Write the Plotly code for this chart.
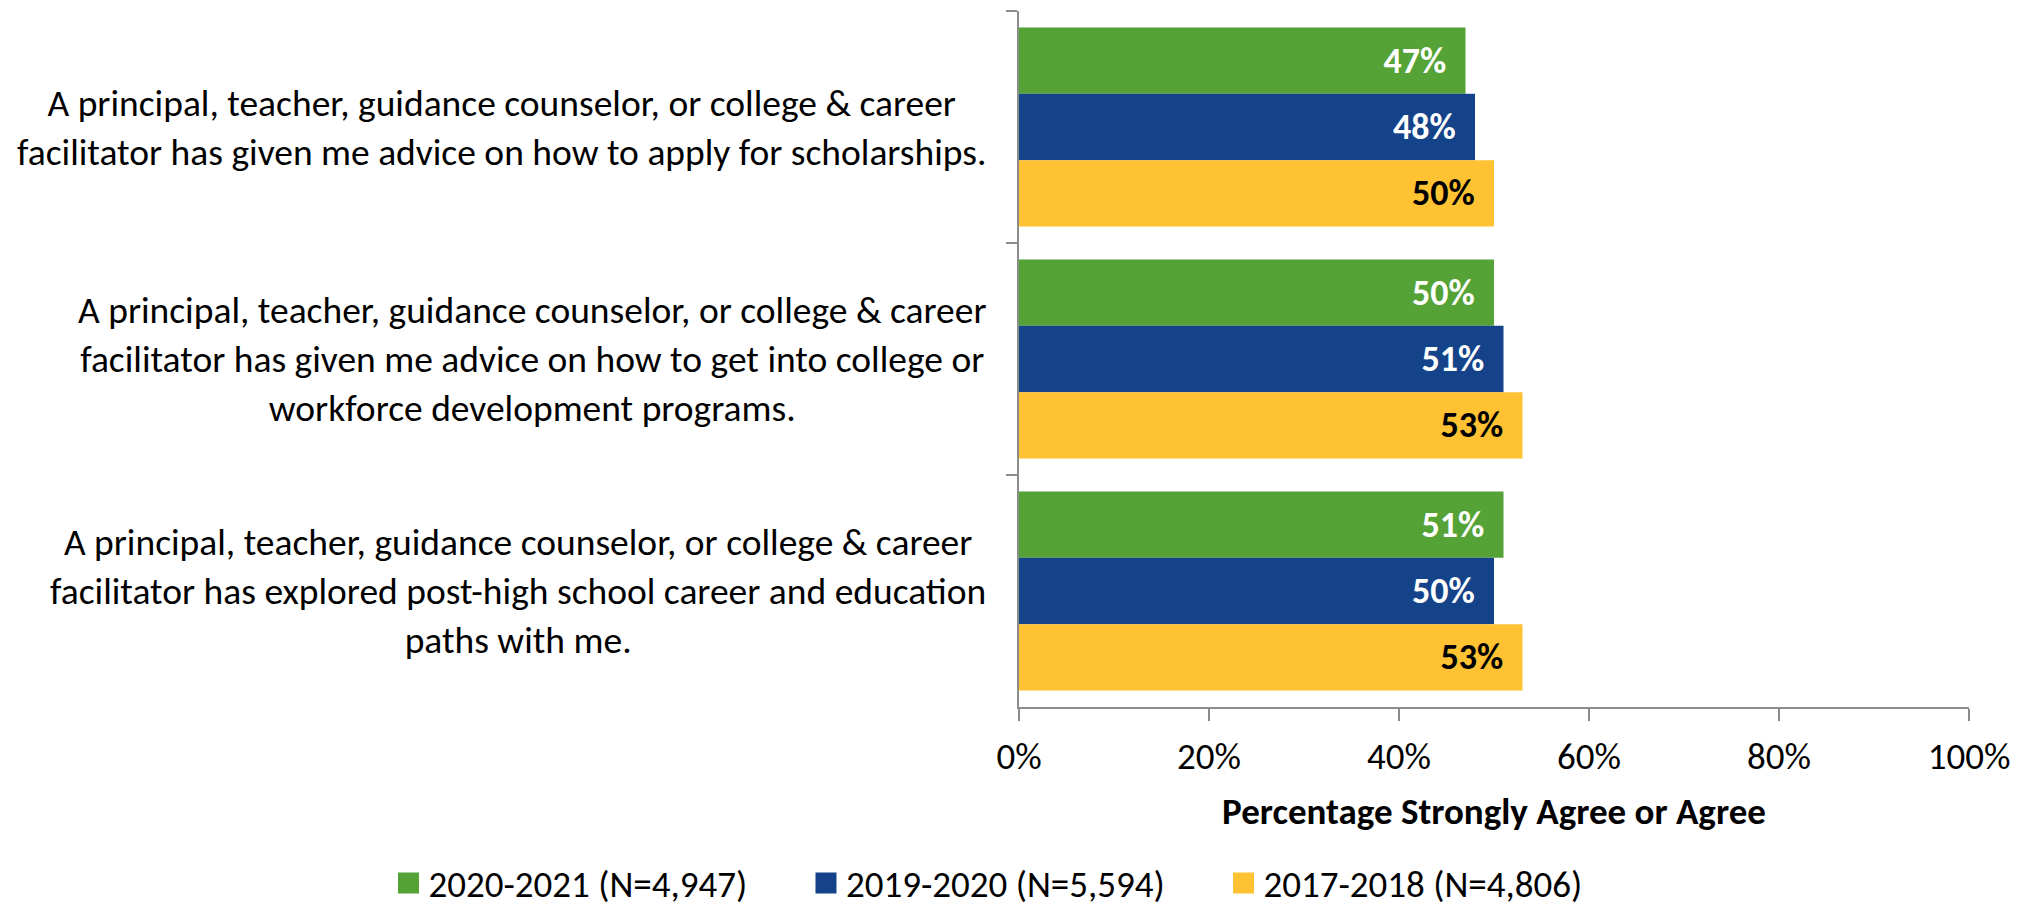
import plotly.graph_objects as go

categories = [
    "A principal, teacher, guidance counselor, or college & career<br>facilitator has given me advice on how to apply for scholarships.",
    "A principal, teacher, guidance counselor, or college & career<br>facilitator has given me advice on how to get into college or<br>workforce development programs.",
    "A principal, teacher, guidance counselor, or college & career<br>facilitator has explored post-high school career and education<br>paths with me.",
]
series_names = ["2020-2021 (N=4,947)", "2019-2020 (N=5,594)", "2017-2018 (N=4,806)"]
values_2020_2021 = [0.47, 0.50, 0.51]
values_2019_2020 = [0.48, 0.51, 0.50]
values_2017_2018 = [0.50, 0.53, 0.53]
colors = ["#55A237", "#144389", "#FFC232"]
text_colors = ["white", "white", "black"]
x_ticks = [0, 0.2, 0.4, 0.6, 0.8, 1.0]

FONT = "Carlito, Calibri, Lato, 'Open Sans', sans-serif"
# page body has an 8px margin, so the figure is sized to fit the window
W, H = 2020, 903
L, R, T, B = 1011, 59, 3, 204
AXC = "#8C8C8C"

fig = go.Figure()
for name, vals, col, tcol in zip(series_names, [values_2020_2021, values_2019_2020, values_2017_2018], colors, text_colors):
    fig.add_trace(go.Bar(
        y=categories, x=vals, name=name, orientation="h",
        marker=dict(color=col, line=dict(width=0)),
        texttemplate="<b>%{x:.0%}</b>\u00a0\u00a0",
        textposition="inside", insidetextanchor="end",
        textfont=dict(family=FONT, size=36, color=tcol),
        constraintext="none", cliponaxis=False,
        showlegend=False,
    ))

# legend-only entries with larger square swatches
for name, col in zip(series_names, colors):
    fig.add_trace(go.Scatter(
        x=[None], y=[None], mode="markers", name=name,
        marker=dict(symbol="square", size=16, color=col, line=dict(color=col, width=5)),
        showlegend=True, hoverinfo="skip",
    ))

for cat in categories:
    fig.add_annotation(
        x=-0.033, xref="paper", y=cat, yref="y", text=cat,
        showarrow=False, xanchor="right", yanchor="middle", align="center",
        font=dict(family=FONT, size=37.5, color="black"),
    )

fig.update_layout(
    width=W, height=H,
    margin=dict(l=L, r=R, t=T, b=B, autoexpand=False),
    plot_bgcolor="white", paper_bgcolor="white",
    barmode="group", bargap=0.142, bargroupgap=0,
    font=dict(family=FONT, size=37, color="black"),
    showlegend=True,
    legend=dict(
        orientation="h", xref="paper", yref="paper",
        x=-0.6637, xanchor="left", y=-0.2535, yanchor="middle",
        font=dict(family=FONT, size=37, color="black"),
        entrywidth=372.5, entrywidthmode="pixels",
        traceorder="normal", itemsizing="trace",
    ),
)
fig.update_xaxes(
    range=[0, 1], tickvals=x_ticks, tickformat=".0%",
    showgrid=False, zeroline=False,
    showline=True, linecolor=AXC, linewidth=2,
    ticks="outside", ticklen=12, tickcolor=AXC, tickwidth=2,
    ticklabelstandoff=4,
    tickfont=dict(family=FONT, size=37, color="black"),
    title=dict(text="<b>Percentage Strongly Agree or Agree</b>", font=dict(family=FONT, size=37, color="black"), standoff=20),
)
fig.update_yaxes(
    autorange="reversed", showgrid=False, zeroline=False,
    showline=True, linecolor=AXC, linewidth=2,
    ticks="outside", ticklen=11, tickcolor=AXC, tickwidth=2,
    tickson="boundaries", showticklabels=False,
)

fig.write_html("out.html")
